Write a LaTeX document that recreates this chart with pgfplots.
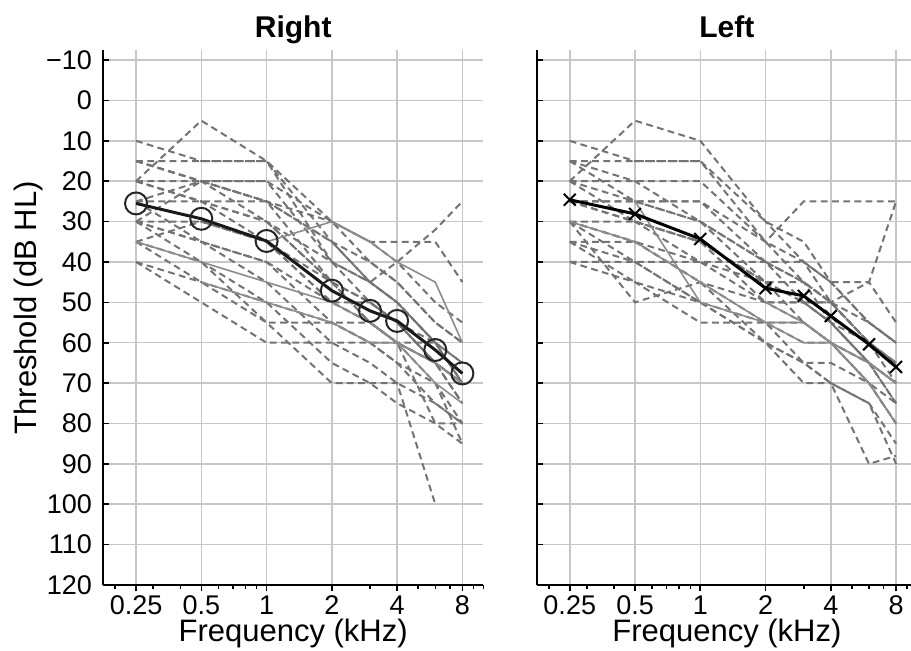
\documentclass[border=0pt]{standalone}
\usepackage{fontspec}
\setmainfont{Liberation Sans}
\usepackage{pgfplots}
\usepackage{pgfplotstable}
\pgfplotsset{compat=1.18}

% individual thresholds, one column per listener (dB HL)
\pgfplotstableread{
f    R1 R2 R3 R4 R5 R6 R7 R8 R9 R10 R11 R12 R13 R14 R15 R16 R17 R18 R19 R20 R21 R22 R23 S1  S2  S3
0.25 20 10 15 20 25 30 15 35 40 30  20  35  20  30  30  40  15  30  20  25  25  35  15  nan nan 35
0.5  5  15 15 20 25 20 20 30 45 35  25  45  25  35  40  50  20  30  25  35  20  40  20  45  nan 40
1    15 15 15 20 25 25 30 35 50 40  30  55  30  45  55  60  25  35  35  40  20  50  25  50  35  45
2    30 35 40 40 45 35 45 45 55 55  40  70  45  60  55  60  35  50  50  50  30  65  30  55  30  50
3    40 45 45 50 50 45 55 50 60 60  45  70  55  65  55  60  40  55  50  55  35  70  35  60  35  55
4    45 50 50 55 55 50 60 55 65 65  40  70  60  70  60  60  45  60  55  60  40  75  35  60  40  60
6    55 60 60 65 65 60 65 60 70 75  32  100 70  75  65  60  55  80  65  65  50  80  35  65  45  70
8    60 65 70 70 75 65 70 70 85 80  25  nan 80  80  75  70  60  80  70  70  55  85  45  70  60  75
}\rightdata

\pgfplotstableread{
f    L1 L2 L3 L4 L5 L6 L7 L8 L9 L10 L11 L12 L13 L14 L15 L16 L17 L18 L19 L20 L21 L22 S1  S2  S3
0.25 20 10 15 20 15 25 30 35 40 30  25  25  30  35  30  15  20  35  25  40  30  20  nan 30  nan
0.5  5  15 15 20 25 25 30 35 40 50  25  30  35  40  35  20  30  45  30  45  40  25  25  35  nan
1    10 15 15 20 25 30 35 40 40 45  25  35  45  50  45  30  35  50  40  55  50  30  50  45  nan
2    30 30 35 35 40 45 50 45 40 50  35  45  55  60  60  40  45  60  50  55  55  40  55  55  50
3    40 35 45 40 50 45 50 50 40 55  25  50  60  65  65  45  55  70  50  65  55  45  55  60  55
4    45 45 50 50 50 55 55 55 45 60  25  50  60  70  70  50  60  70  55  65  60  50  60  60  60
6    55 55 60 60 60 65 65 65 45 70  25  45  65  90  75  60  70  75  60  70  65  55  65  65  70
8    60 60 65 65 70 70 75 70 55 80  25  25  75  88  90  65  75  85  65  80  70  60  70  70  80
}\leftdata

% group means
\pgfplotstableread{
f    R    L
0.25 25.5 24.6
0.5  29.3 28.1
1    34.8 34.3
2    47.1 46.5
3    52.1 48.4
4    54.6 53.4
6    61.8 60.4
8    67.6 66.0
}\meandata

\begin{document}
\begin{tikzpicture}
\begin{axis}[
  scale only axis, width=190.2pt, height=267.5pt,
  xmode=log, xmin=0.176, xmax=10,
  ymin=-12.5, ymax=120, y dir=reverse,
  xtick={0.25,0.5,1,2,4,8}, xticklabels={0.25,0.5,1,2,4,8},
  minor xtick={0.2,0.3,0.4,0.6,0.7,0.8,0.9,3,5,6,7,9,10},
  ytick={-10,0,10,20,30,40,50,60,70,80,90,100,110,120},
  yticklabels={−10,0,10,20,30,40,50,60,70,80,90,100,110,120},
  xmajorgrids, ymajorgrids,
  major grid style={black!22, line width=0.75pt},
  axis x line*=bottom, axis y line*=left,
  axis line style={-, line width=1pt, black},
  xtick align=outside, ytick align=inside,
  major tick length=3.2pt, minor tick length=2.2pt,
  tick style={black, line width=0.8pt},
  ticklabel style={font=\fontsize{13.5}{15}\selectfont},
  xticklabel style={yshift=1.5pt},
  yticklabel style={xshift=-2pt},
  title={Right},
  title style={at={(axis description cs:0.5,1)}, anchor=base,
    font=\bfseries\fontsize{15}{18}\selectfont},
  xlabel={Frequency (kHz)},
  xlabel style={at={(axis description cs:0.5,-0.1065)}, anchor=base,
    font=\fontsize{15.5}{18}\selectfont},
  ylabel={Threshold (dB HL)},
  ylabel style={at={(axis description cs:-0.1735,0.518)}, anchor=base,
    font=\fontsize{15.5}{18}\selectfont},
  clip=false,
]
\pgfplotsinvokeforeach{1,...,23}{\addplot[black!55, line width=1pt, dash pattern=on 3.4pt off 2.2pt, mark=none] table[x=f,y=R#1]{\rightdata};}
\pgfplotsinvokeforeach{1,2,3}{\addplot[black!45, line width=0.8pt, mark=none] table[x=f,y=S#1]{\rightdata};}
\addplot[black!90, line width=1.5pt, mark=o, mark size=5.5pt,
  mark options={line width=1pt, fill=none, draw=black!85}] table[x=f,y=R]{\meandata};
\end{axis}

\begin{axis}[
  xshift=216.85pt,
  scale only axis, width=190.2pt, height=267.5pt,
  xmode=log, xmin=0.176, xmax=10,
  ymin=-12.5, ymax=120, y dir=reverse,
  xtick={0.25,0.5,1,2,4,8}, xticklabels={0.25,0.5,1,2,4,8},
  minor xtick={0.2,0.3,0.4,0.6,0.7,0.8,0.9,3,5,6,7,9,10},
  ytick={-10,0,10,20,30,40,50,60,70,80,90,100,110,120},
  yticklabels={},
  xmajorgrids, ymajorgrids,
  major grid style={black!22, line width=0.75pt},
  axis x line*=bottom, axis y line*=left,
  axis line style={-, line width=1pt, black},
  xtick align=outside, ytick align=inside,
  major tick length=3.2pt, minor tick length=2.2pt,
  tick style={black, line width=0.8pt},
  ticklabel style={font=\fontsize{13.5}{15}\selectfont},
  xticklabel style={yshift=1.5pt},
  title={Left},
  title style={at={(axis description cs:0.5,1)}, anchor=base,
    font=\bfseries\fontsize{15}{18}\selectfont},
  xlabel={Frequency (kHz)},
  xlabel style={at={(axis description cs:0.5,-0.1065)}, anchor=base,
    font=\fontsize{15.5}{18}\selectfont},
  clip=false,
]
\pgfplotsinvokeforeach{1,...,22}{\addplot[black!55, line width=1pt, dash pattern=on 3.4pt off 2.2pt, mark=none] table[x=f,y=L#1]{\leftdata};}
\pgfplotsinvokeforeach{1,2,3}{\addplot[black!45, line width=0.8pt, mark=none] table[x=f,y=S#1]{\leftdata};}
\addplot[black, line width=1.5pt, mark=x, mark size=4.2pt,
  mark options={line width=1pt}] table[x=f,y=L]{\meandata};
\end{axis}
\pgfresetboundingbox
\useasboundingbox (-51.5pt,-33pt) rectangle (404pt,292.5pt);
\end{tikzpicture}
\end{document}
